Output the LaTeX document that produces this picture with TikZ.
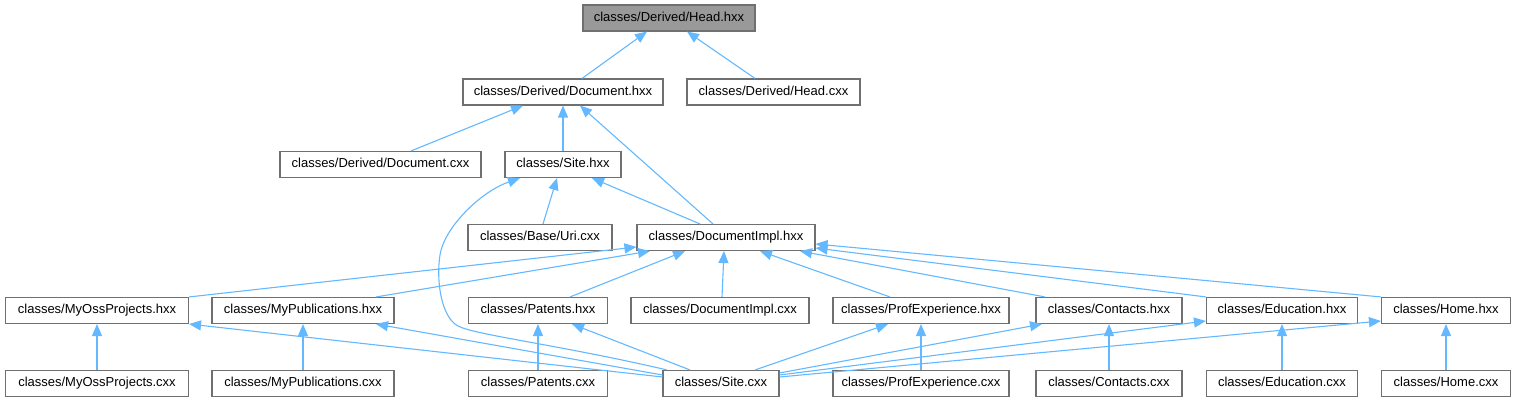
\documentclass[tikz,border=0pt]{standalone}
\usepackage{fontspec}
\setmainfont{Liberation Sans}
\usetikzlibrary{arrows.meta}
\definecolor{edgec}{HTML}{63B8FF}
\definecolor{boxc}{HTML}{707070}
\definecolor{headfill}{HTML}{999999}
\begin{document}
\begin{tikzpicture}[x=1pt,y=-1pt,
  box/.style={draw=boxc, line width=1.1pt, fill=white, minimum height=26pt, inner sep=0pt, text height=9.6pt, text depth=2.8pt, font=\fontsize{13}{15}\selectfont},
  edge/.style={draw=edgec, line width=1.1pt, -{Triangle[length=12pt,width=10pt]}}]
\useasboundingbox (0,0) rectangle (1515,403);
% row 1
\node[box, fill=headfill, minimum width=172pt] (headhxx) at (669,18) {classes/Derived/Head.hxx};
% row 2
\node[box, minimum width=200pt] (dochxx) at (563,92) {classes/Derived/Document.hxx};
\node[box, minimum width=173pt] (headcxx) at (773.5,92) {classes/Derived/Head.cxx};
% row 3
\node[box, minimum width=201pt] (doccxx) at (380.5,164.5) {classes/Derived/Document.cxx};
\node[box, minimum width=116pt] (sitehxx) at (563,164.5) {classes/Site.hxx};
% row 4
\node[box, minimum width=144pt] (uricxx) at (540,237.5) {classes/Base/Uri.cxx};
\node[box, minimum width=178pt] (implhxx) at (726,237.5) {classes/DocumentImpl.hxx};
% row 5
\node[box, minimum width=183pt] (myosshxx) at (97,310.5) {classes/MyOssProjects.hxx};
\node[box, minimum width=182pt] (mypubhxx) at (303,310.5) {classes/MyPublications.hxx};
\node[box, minimum width=139pt] (patentshxx) at (538,310.5) {classes/Patents.hxx};
\node[box, minimum width=178pt] (implcxx) at (720,310.5) {classes/DocumentImpl.cxx};
\node[box, minimum width=176pt] (profhxx) at (921,310.5) {classes/ProfExperience.hxx};
\node[box, minimum width=146pt] (contactshxx) at (1109,310.5) {classes/Contacts.hxx};
\node[box, minimum width=151pt] (eduhxx) at (1282,310.5) {classes/Education.hxx};
\node[box, minimum width=129pt] (homehxx) at (1446,310.5) {classes/Home.hxx};
% row 6
\node[box, minimum width=183pt] (myosscxx) at (97,383.5) {classes/MyOssProjects.cxx};
\node[box, minimum width=182pt] (mypubcxx) at (303,383.5) {classes/MyPublications.cxx};
\node[box, minimum width=139pt] (patentscxx) at (538,383.5) {classes/Patents.cxx};
\node[box, minimum width=116pt] (sitecxx) at (721,383.5) {classes/Site.cxx};
\node[box, minimum width=176pt] (profcxx) at (921,383.5) {classes/ProfExperience.cxx};
\node[box, minimum width=146pt] (contactscxx) at (1109,383.5) {classes/Contacts.cxx};
\node[box, minimum width=151pt] (educxx) at (1282,383.5) {classes/Education.cxx};
\node[box, minimum width=129pt] (homecxx) at (1446,383.5) {classes/Home.cxx};
% edges upper part
\draw[edge] (582,0 |- dochxx.north) -- (647,0 |- headhxx.south);
\draw[edge] (755,0 |- headcxx.north) -- (687,0 |- headhxx.south);
\draw[edge] (411,0 |- doccxx.north) -- (523,0 |- dochxx.south);
\draw[edge] (sitehxx.north) -- (dochxx.south);
\draw[edge] (713,0 |- implhxx.north) -- (580,0 |- dochxx.south);
\draw[edge] (543,0 |- uricxx.north) -- (557,0 |- sitehxx.south);
\draw[edge] (700,0 |- implhxx.north) -- (592,0 |- sitehxx.south);
\draw[edge] (667,0 |- sitecxx.north) .. controls (560,345) and (475,335) .. (458,326)
  .. controls (441,317) and (436,280) .. (440,255)
  .. controls (444,228) and (480,192) .. (520,0 |- sitehxx.south);
% row 5 to DocumentImpl.hxx
\draw[edge] (myosshxx.north east) -- (implhxx.west |- 0,247);
\draw[edge] (376,0 |- mypubhxx.north) -- (650,0 |- implhxx.south);
\draw[edge] (570,0 |- patentshxx.north) -- (685,0 |- implhxx.south);
\draw[edge] (722,0 |- implcxx.north) -- (724,0 |- implhxx.south);
\draw[edge] (890,0 |- profhxx.north) -- (760,0 |- implhxx.south);
\draw[edge] (1045,0 |- contactshxx.north) -- (800,0 |- implhxx.south);
\draw[edge] (eduhxx.north west) -- (implhxx.east |- 0,248);
\draw[edge] (homehxx.north west) -- (implhxx.east |- 0,244);
% cxx to hxx verticals
\draw[edge] (myosscxx) -- (myosshxx);
\draw[edge] (mypubcxx) -- (mypubhxx);
\draw[edge] (patentscxx) -- (patentshxx);
\draw[edge] (profcxx) -- (profhxx);
\draw[edge] (contactscxx) -- (contactshxx);
\draw[edge] (educxx) -- (eduhxx);
\draw[edge] (homecxx) -- (homehxx);
% Site.cxx to row 5
\draw[edge] (sitecxx.west |- 0,377) -- (myosshxx.south east);
\draw[edge] (sitecxx.west |- 0,375) -- (376,0 |- mypubhxx.south);
\draw[edge] (690,0 |- sitecxx.north) -- (572,0 |- patentshxx.south);
\draw[edge] (755,0 |- sitecxx.north) -- (888,0 |- profhxx.south);
\draw[edge] (sitecxx.east |- 0,373) -- (1042,0 |- contactshxx.south);
\draw[edge] (sitecxx.east |- 0,375) -- (eduhxx.west |- 0,321);
\draw[edge] (sitecxx.east |- 0,377) -- (homehxx.west |- 0,321);
\end{tikzpicture}
\end{document}
